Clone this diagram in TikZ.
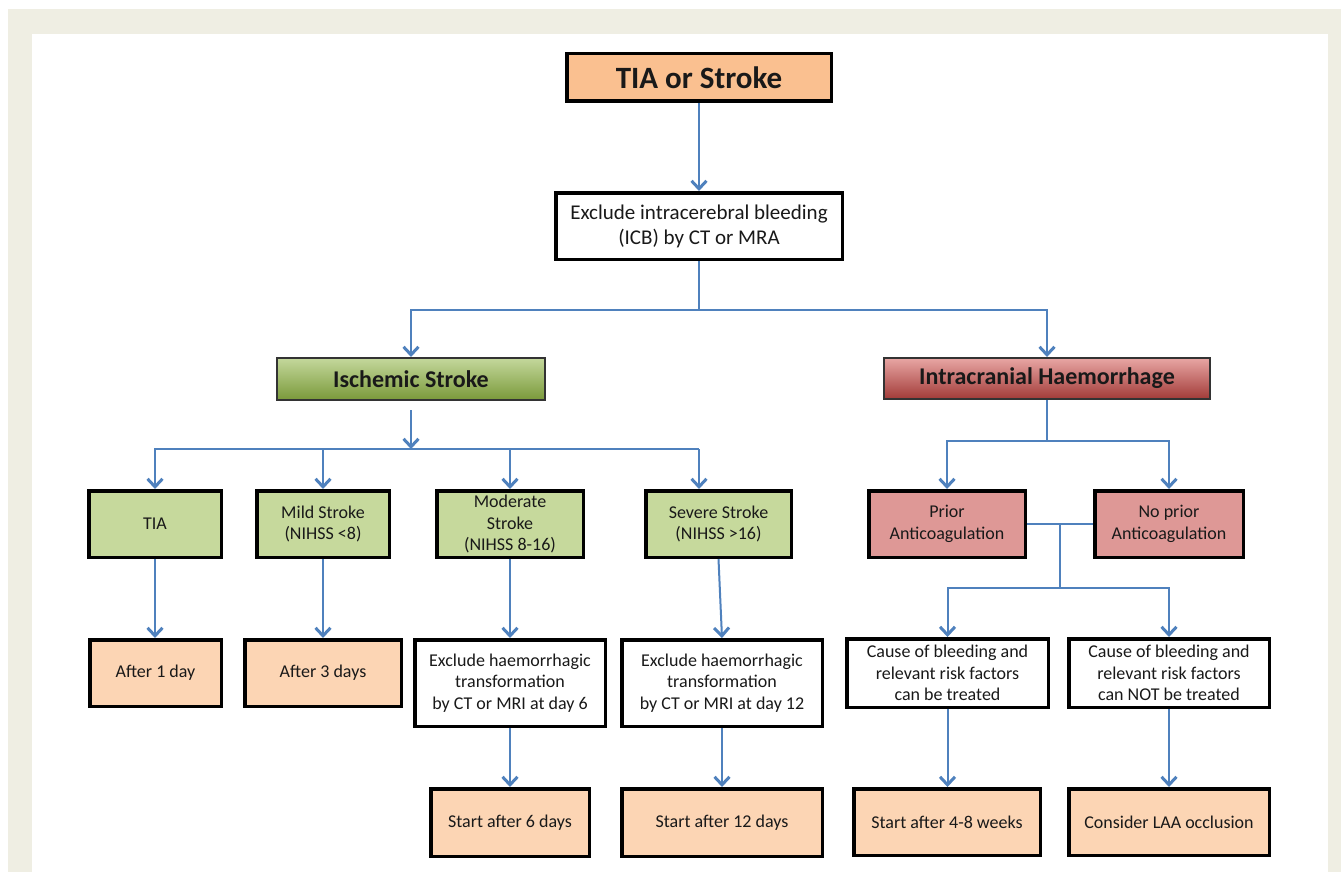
\documentclass[tikz,border=0pt]{standalone}
\usepackage{fontspec}
\setmainfont{Carlito}
\usetikzlibrary{arrows.meta,calc}
\definecolor{beige}{HTML}{EFEEE3}
\definecolor{lineblue}{HTML}{4F81BD}
\definecolor{orangeD}{HTML}{FAC090}
\definecolor{orangeL}{HTML}{FCD5B4}
\definecolor{greenL}{HTML}{C6D99C}
\definecolor{greenTop}{HTML}{C4D89C}
\definecolor{greenBot}{HTML}{7A993A}
\definecolor{redL}{HTML}{DE9896}
\definecolor{redTop}{HTML}{E8A6A4}
\definecolor{redBot}{HTML}{A23B38}
\tikzset{
  box/.style={draw=black, line width=3.5pt, inner sep=0pt, align=center, text=black!90,
    font=\fontsize{18}{21.5}\selectfont},
  conn/.style={draw=lineblue, line width=2pt},
  arr/.style={conn, -{Straight Barb[length=8pt,width=15pt,line width=3pt]}},
}
\begin{document}
\begin{tikzpicture}[x=1pt,y=-1pt]
\useasboundingbox (0,0) rectangle (1341,872);
\fill[white] (0,0) rectangle (1341,872);
\fill[beige] (8,9) rectangle (1341,872);
\fill[white] (32,34) rectangle (1328,872);

% nodes
\node[box, fill=orangeD, minimum width=264.5, minimum height=47.5,
  font=\fontsize{31}{36}\selectfont\bfseries] (top) at (699,77.5) {TIA or Stroke};
\node[box, fill=white, minimum width=286.5, minimum height=66.5,
  font=\fontsize{21}{25}\selectfont] (icb) at (699,226) {Exclude intracerebral bleeding\\(ICB) by CT or MRA};
\node[box, line width=2pt, draw=black!80, top color=greenTop, bottom color=greenBot, minimum width=268, minimum height=42,
  font=\fontsize{24}{28}\selectfont\bfseries] (isch) at (411,379) {Ischemic Stroke};
\node[box, line width=2pt, draw=black!80, top color=redTop, bottom color=redBot, minimum width=326, minimum height=41,
  font=\fontsize{24}{28}\selectfont\bfseries] (ich) at (1047,378.5) {Intracranial Haemorrhage};

\node[box, fill=greenL, minimum width=132.5, minimum height=66.5] (tia) at (155,524) {TIA};
\node[box, fill=greenL, minimum width=132.5, minimum height=66.5] (mild) at (323,524) {Mild Stroke\\(NIHSS <8)};
\node[box, fill=greenL, minimum width=146.5, minimum height=66.5] (mod) at (510,524) {Moderate\\Stroke\\(NIHSS 8-16)};
\node[box, fill=greenL, minimum width=145.5, minimum height=66.5] (sev) at (718.5,524) {Severe Stroke\\(NIHSS >16)};
\node[box, fill=redL, minimum width=156.5, minimum height=66.5] (prior) at (947,524) {Prior\\Anticoagulation};
\node[box, fill=redL, minimum width=148.5, minimum height=66.5] (noprior) at (1169,524) {No prior\\Anticoagulation};

\node[box, fill=orangeL, minimum width=131.5, minimum height=66.5] (a1) at (155.5,673) {After 1 day};
\node[box, fill=orangeL, minimum width=156.5, minimum height=66.5] (a3) at (323,673) {After 3 days};
\node[box, fill=white, minimum width=190.5, minimum height=86.5] (ex6) at (510,683) {Exclude haemorrhagic\\transformation\\by CT or MRI at day 6};
\node[box, fill=white, minimum width=200.5, minimum height=86.5] (ex12) at (722,683) {Exclude haemorrhagic\\transformation\\by CT or MRI at day 12};
\node[box, fill=white, minimum width=201.5, minimum height=68.5] (cbt) at (947.5,673) {Cause of bleeding and\\relevant risk factors\\can be treated};
\node[box, fill=white, minimum width=200.5, minimum height=68.5] (cbn) at (1169,673) {Cause of bleeding and\\relevant risk factors\\can NOT be treated};

\node[box, fill=orangeL, minimum width=158.5, minimum height=67.5] (s6) at (510,822.5) {Start after 6 days};
\node[box, fill=orangeL, minimum width=200.5, minimum height=67.5] (s12) at (722,822.5) {Start after 12 days};
\node[box, fill=orangeL, minimum width=186.5, minimum height=66.5] (s48) at (947,822) {Start after 4-8 weeks};
\node[box, fill=orangeL, minimum width=200.5, minimum height=66.5] (laa) at (1169,822) {Consider LAA occlusion};

% connectors
\coordinate (j1) at (699,310);
\coordinate (j2) at (699,449);
\coordinate (j3) at (1047,441);
\coordinate (j4) at (1060,524);
\coordinate (j5) at (1060,588);

\draw[arr] (top.south) -- (icb.north);
\draw[conn] (icb.south) -- (j1);
\draw[arr] (j1) -| (isch.north);
\draw[arr] (j1) -| (ich.north);

\draw[arr] ([yshift=-9pt]isch.south) -- (isch.south |- j2);
\draw[arr] (j2) -| (tia.north);
\draw[arr] (mild.north |- j2) -- (mild.north);
\draw[arr] (mod.north |- j2) -- (mod.north);
\draw[arr] (j2) -- (j2 |- sev.north);

\draw[arr] (tia.south) -- (tia.south |- a1.north);
\draw[arr] (mild.south) -- (a3.north);
\draw[arr] (mod.south) -- (ex6.north);
\draw[arr] (sev.south) -- (ex12.north);
\draw[arr] (ex6.south) -- (s6.north);
\draw[arr] (ex12.south) -- (s12.north);

\draw[conn] (ich.south) -- (j3);
\draw[arr] (j3) -| (prior.north);
\draw[arr] (j3) -| (noprior.north);
\draw[conn] (prior.east) -- (noprior.west);
\draw[conn] (j4) -- (j5);
\draw[arr] (j5) -| (cbt.north);
\draw[arr] (j5) -| (cbn.north);
\draw[arr] (cbt.south) -- (cbt.south |- s48.north);
\draw[arr] (cbn.south) -- (laa.north);
\end{tikzpicture}
\end{document}
